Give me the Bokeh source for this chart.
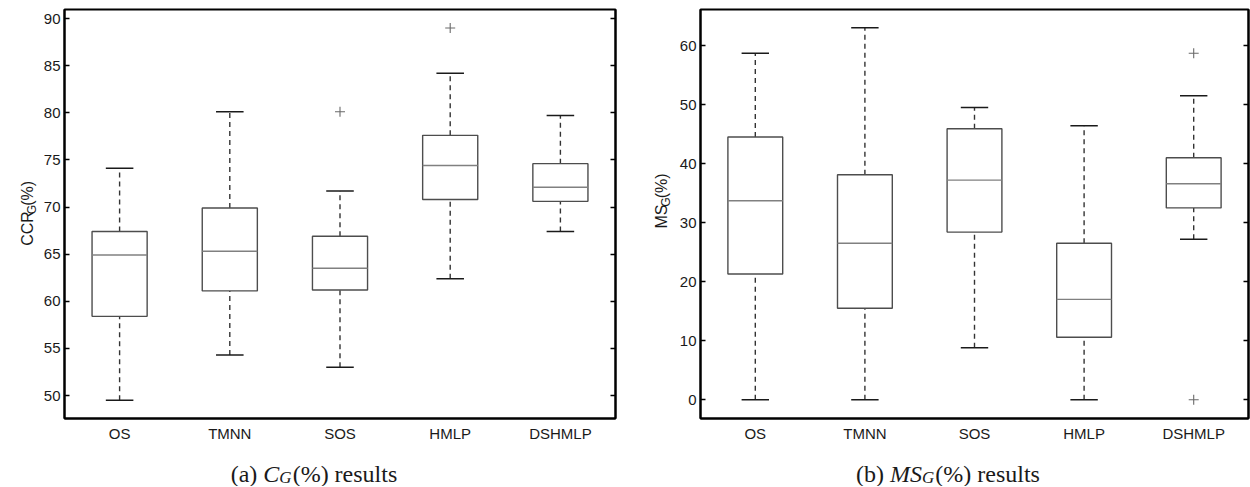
import math
from bokeh.plotting import figure
from bokeh.models import Range1d, LinearAxis, FixedTicker, Label, ColumnDataSource
from bokeh.layouts import row, column
from bokeh.transform import dodge
from bokeh.embed import file_html
from bokeh.resources import INLINE

# ---------------- data ----------------
categories = ["OS", "TMNN", "SOS", "HMLP", "DSHMLP"]

ccr_low = [49.5, 54.3, 53.0, 62.4, 67.4]
ccr_q1 = [58.4, 61.1, 61.2, 70.8, 70.6]
ccr_med = [64.9, 65.3, 63.5, 74.4, 72.1]
ccr_q3 = [67.4, 69.9, 66.9, 77.6, 74.6]
ccr_high = [74.1, 80.1, 71.7, 84.2, 79.7]
ccr_out_cat = ["SOS", "HMLP"]
ccr_out_val = [80.1, 89.0]
ccr_ticks = [50, 55, 60, 65, 70, 75, 80, 85, 90]

ms_low = [0.0, 0.0, 8.8, 0.0, 27.2]
ms_q1 = [21.3, 15.5, 28.4, 10.6, 32.5]
ms_med = [33.7, 26.5, 37.2, 17.0, 36.6]
ms_q3 = [44.5, 38.1, 45.9, 26.5, 41.0]
ms_high = [58.7, 63.0, 49.5, 46.4, 51.5]
ms_out_cat = ["DSHMLP", "DSHMLP"]
ms_out_val = [58.7, 0.0]
ms_ticks = [0, 10, 20, 30, 40, 50, 60]

SANS = "Liberation Sans"
SERIF = "Liberation Serif"
PH = 450  # plot height (frame at y 9..418)


def make_panel(width, bl, br, yr, ticks, low, q1, med, q3, high, out_cat, out_val):
    p = figure(width=width, height=PH, output_backend="svg", toolbar_location=None,
               x_range=Range1d(0.5, 5.5), y_range=Range1d(*yr),
               min_border_left=bl, min_border_right=br, min_border_top=9,
               min_border_bottom=PH - 418, background_fill_color="white",
               border_fill_color="white")
    p.xgrid.visible = False
    p.ygrid.visible = False
    p.outline_line_color = "black"
    p.outline_line_width = 2

    xs = [categories.index(c) + 1 for c in categories]
    src = ColumnDataSource(dict(x=xs, low=low, q1=q1, med=med, q3=q3, high=high))

    # whiskers
    p.segment(x0="x", y0="q3", x1="x", y1="high", source=src, line_color="#333333",
              line_width=1.4, line_dash="5 4")
    p.segment(x0="x", y0="low", x1="x", y1="q1", source=src, line_color="#333333",
              line_width=1.4, line_dash="5 4")
    # caps
    p.segment(x0=dodge("x", -0.125), y0="high", x1=dodge("x", 0.125), y1="high",
              source=src, line_color="#1a1a1a", line_width=1.5)
    p.segment(x0=dodge("x", -0.125), y0="low", x1=dodge("x", 0.125), y1="low",
              source=src, line_color="#1a1a1a", line_width=1.5)
    # boxes
    p.vbar(x="x", width=0.5, bottom="q1", top="q3", source=src, fill_color="white",
           line_color="#4d4d4d", line_width=1.4)
    # medians
    p.segment(x0=dodge("x", -0.25), y0="med", x1=dodge("x", 0.25), y1="med",
              source=src, line_color="#808080", line_width=1.4)
    # outliers
    ox = [categories.index(c) + 1 for c in out_cat]
    p.scatter(ox, out_val, marker="cross", size=10, line_color="#6a6a6a", line_width=1.1)

    # axes
    xa = p.xaxis[0]
    xa.ticker = FixedTicker(ticks=[1, 2, 3, 4, 5])
    xa.major_label_overrides = {i + 1: c for i, c in enumerate(categories)}
    xa.major_tick_in = 0
    xa.major_tick_out = 0
    xa.minor_tick_line_color = None
    xa.axis_line_color = "black"
    xa.axis_line_width = 2
    xa.major_label_text_font = SANS
    xa.major_label_text_font_size = "15px"
    xa.major_label_text_color = "#1a1a1a"
    xa.major_label_standoff = 6

    ya = p.yaxis[0]
    ya.ticker = FixedTicker(ticks=ticks)
    ya.major_tick_in = 5
    ya.major_tick_out = 0
    ya.major_tick_line_width = 1.5
    ya.minor_tick_line_color = None
    ya.axis_line_color = "black"
    ya.axis_line_width = 2
    ya.major_label_text_font = SANS
    ya.major_label_text_font_size = "15px"
    ya.major_label_text_color = "#1a1a1a"
    ya.major_label_standoff = 4

    ra = LinearAxis(ticker=FixedTicker(ticks=ticks), major_tick_in=5, major_tick_out=0,
                    major_tick_line_width=1.5, minor_tick_line_color=None,
                    axis_line_color="black", axis_line_width=2,
                    major_label_text_font_size="0px", major_label_text_color=None,
                    major_label_standoff=0)
    p.add_layout(ra, "right")
    return p


def text_fig(width, height):
    f = figure(width=width, height=height, output_backend="svg", toolbar_location=None,
               x_range=Range1d(0, width), y_range=Range1d(0, height),
               x_axis_location=None, y_axis_location=None,
               min_border=0, min_border_left=0, min_border_right=0,
               min_border_top=0, min_border_bottom=0,
               background_fill_color="white", border_fill_color="white")
    f.outline_line_color = None
    f.xgrid.visible = False
    f.ygrid.visible = False
    return f


def add_label(f, x, y, text, size, font=SANS, style="normal", angle=0.0):
    f.add_layout(Label(x=x, y=y, text=text, text_font=font, text_font_size=size,
                       text_font_style=style, angle=angle, text_align="left",
                       text_baseline="alphabetic", text_color="#1a1a1a"))


# left block: ylabel strip 0..38, plot 38..625 (frame 64..615)
yl1 = text_fig(38, PH)
p1 = make_panel(587, 26, 10, (47.56, 90.955), ccr_ticks,
                ccr_low, ccr_q1, ccr_med, ccr_q3, ccr_high, ccr_out_cat, ccr_out_val)
# right block: ylabel strip 625..673, plot 673..1250 (frame 700..1248)
yl2 = text_fig(48, PH)
p2 = make_panel(577, 27, 2, (-3.17, 66.10), ms_ticks,
                ms_low, ms_q1, ms_med, ms_q3, ms_high, ms_out_cat, ms_out_val)

A = math.pi / 2
# y label: CCR_G(%) reading upward, starting at page y 260
st = PH - 260
add_label(yl1, 27, st, "CCR", "16px", angle=A)
add_label(yl1, 31, st + 34.7, "G", "12px", angle=A)
add_label(yl1, 27, st + 34.7 + 9.3, "(%)", "16px", angle=A)
# y label: MS_G(%), baseline at page x 661 -> strip x 36
st = PH - 241
add_label(yl2, 36, st, "MS", "16px", angle=A)
add_label(yl2, 40, st + 24.0, "G", "12px", angle=A)
add_label(yl2, 36, st + 24.0 + 9.3, "(%)", "16px", angle=A)

# captions (centred under each whole sub-figure)
CH = 36
cap1 = text_fig(625, CH)
cap2 = text_fig(625, CH)
cb = 13  # baseline ~13px above the strip bottom
F = 24
w_a, w_c, w_g, w_rest = 1.360 * F, 0.667 * F, 0.722 * 17, 4.360 * F
s = 313 - (w_a + w_c + w_g + w_rest) / 2
add_label(cap1, s, cb, "(a) ", "24px", font=SERIF)
add_label(cap1, s + w_a, cb, "C", "24px", font=SERIF, style="italic")
add_label(cap1, s + w_a + w_c, cb - 4, "G", "17px", font=SERIF, style="italic")
add_label(cap1, s + w_a + w_c + w_g + 1, cb, "(%) results", "24px", font=SERIF)

w_b, w_ms = 1.416 * F, 1.333 * F
s = 947 - 625 - (w_b + w_ms + w_g + w_rest) / 2
add_label(cap2, s, cb, "(b) ", "24px", font=SERIF)
add_label(cap2, s + w_b, cb, "MS", "24px", font=SERIF, style="italic")
add_label(cap2, s + w_b + w_ms, cb - 4, "G", "17px", font=SERIF, style="italic")
add_label(cap2, s + w_b + w_ms + w_g + 1, cb, "(%) results", "24px", font=SERIF)

layout = row(column(row(yl1, p1), cap1), column(row(yl2, p2), cap2))
open("out.html", "w").write(file_html(layout, INLINE))
